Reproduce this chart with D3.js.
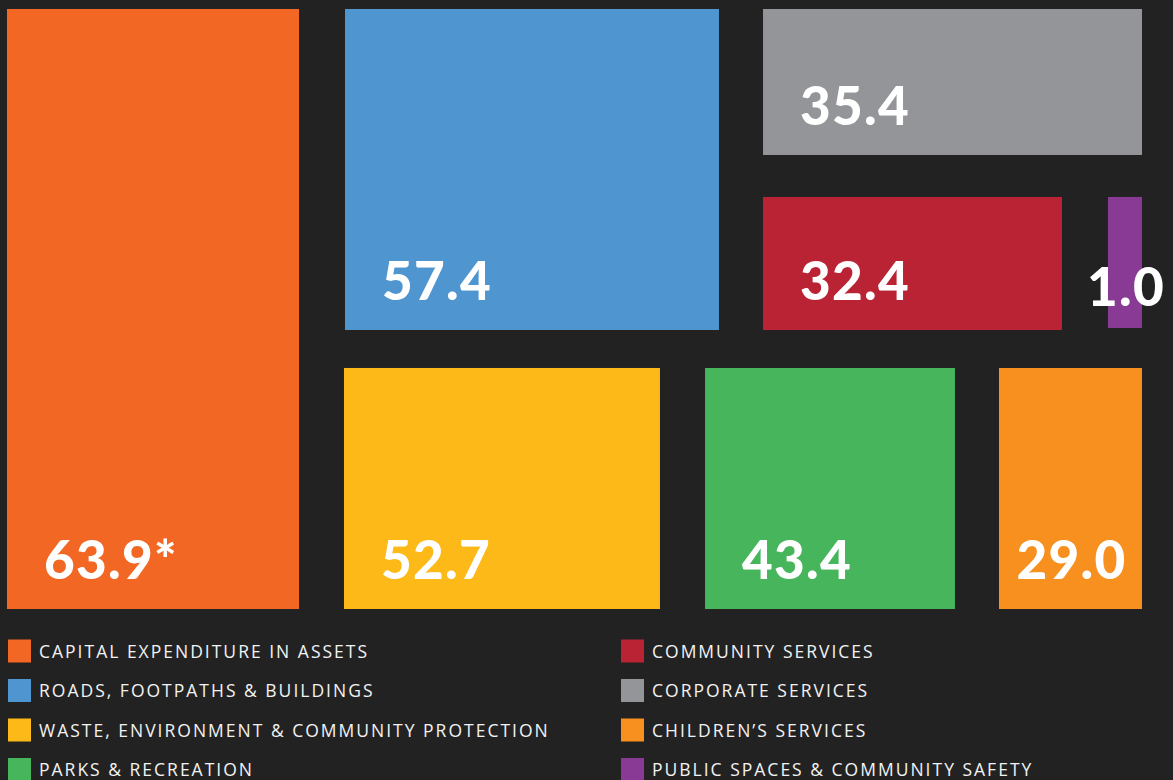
<!DOCTYPE html>
<html>
<head>
<meta charset="utf-8">
<script src="https://cdn.jsdelivr.net/npm/d3@7"></script>
<style>
  html, body { margin: 0; padding: 0; background: #222222; }
  svg { display: block; }
</style>
</head>
<body>
<script>
// Categories and values
const categories = [
  'CAPITAL EXPENDITURE IN ASSETS',
  'ROADS, FOOTPATHS & BUILDINGS',
  'WASTE, ENVIRONMENT & COMMUNITY PROTECTION',
  'PARKS & RECREATION',
  'COMMUNITY SERVICES',
  'CORPORATE SERVICES',
  'CHILDREN\u2019S SERVICES',
  'PUBLIC SPACES & COMMUNITY SAFETY'
];
const values = [63.9, 57.4, 52.7, 43.4, 32.4, 35.4, 29.0, 1.0];
const valueLabels = ['63.9*', '57.4', '52.7', '43.4', '32.4', '35.4', '29.0', '1.0'];
const colors = ['#F26724', '#4F95D0', '#FDB917', '#46B55C', '#BA2334', '#939598', '#F7901E', '#883A94'];

// Hand-made tile layout, in percent of the chart area [x0, x1, y0, y1]
const tiles = [
  [0, 25.73, 0, 100],
  [29.78, 62.73, 0, 53.5],
  [29.69, 57.53, 59.83, 100],
  [61.5, 83.52, 59.83, 100],
  [66.61, 92.95, 31.33, 53.5],
  [66.61, 100, 0, 24.33],
  [87.4, 100, 59.83, 100],
  [97.0, 100, 31.33, 53.17]
];

const width = 1173, height = 780;

const svg = d3.select('body')
  .append('svg')
  .attr('width', width)
  .attr('height', height);

svg.append('rect')
  .attr('width', width)
  .attr('height', height)
  .attr('fill', '#222222');

const x = d3.scaleLinear().domain([0, 100]).range([7, 1142]);
const y = d3.scaleLinear().domain([0, 100]).range([9, 609]);

const data = categories.map((c, i) => ({
  name: c,
  value: values[i],
  label: valueLabels[i],
  color: colors[i],
  tile: tiles[i]
}));

// Tiles
const g = svg.append('g');

g.selectAll('rect')
  .data(data)
  .enter()
  .append('rect')
  .attr('x', d => x(d.tile[0]))
  .attr('y', d => y(d.tile[2]))
  .attr('width', d => x(d.tile[1]) - x(d.tile[0]))
  .attr('height', d => y(d.tile[3]) - y(d.tile[2]))
  .attr('fill', d => d.color);

// Value labels: left aligned in wide tiles, centred in narrow ones
const narrow = d => (x(d.tile[1]) - x(d.tile[0])) < 200;

g.selectAll('text.value')
  .data(data)
  .enter()
  .append('text')
  .attr('class', 'value')
  .attr('x', d => narrow(d) ? (x(d.tile[0]) + x(d.tile[1])) / 2 + 1 : x(d.tile[0]) + 37)
  .attr('y', d => y(d.tile[3]) - (d.value < 5 ? 22 : 30))
  .attr('text-anchor', d => narrow(d) ? 'middle' : 'start')
  .attr('fill', '#ffffff')
  .style('font-family', 'Lato, sans-serif')
  .style('font-weight', 900)
  .style('font-size', '53px')
  .style('letter-spacing', '1.3px')
  .text(d => d.label);

// Legend, two columns of four
const legendX = d3.scaleOrdinal().domain([0, 1]).range([8, 621]);
const legendY = d3.scaleLinear().domain([0, 3]).range([651, 769.5]);

const legend = svg.append('g')
  .selectAll('g')
  .data(data)
  .enter()
  .append('g')
  .attr('transform', (d, i) => `translate(${legendX(Math.floor(i / 4))},${legendY(i % 4)})`);

legend.append('rect')
  .attr('x', 0)
  .attr('y', -11.5)
  .attr('width', 23)
  .attr('height', 23)
  .attr('fill', d => d.color);

legend.append('text')
  .attr('x', 31)
  .attr('y', 6.5)
  .attr('fill', '#f2f2f2')
  .style('font-family', '"Open Sans", sans-serif')
  .style('font-size', '17.5px')
  .style('letter-spacing', '2px')
  .text(d => d.name);
</script>
</body>
</html>
